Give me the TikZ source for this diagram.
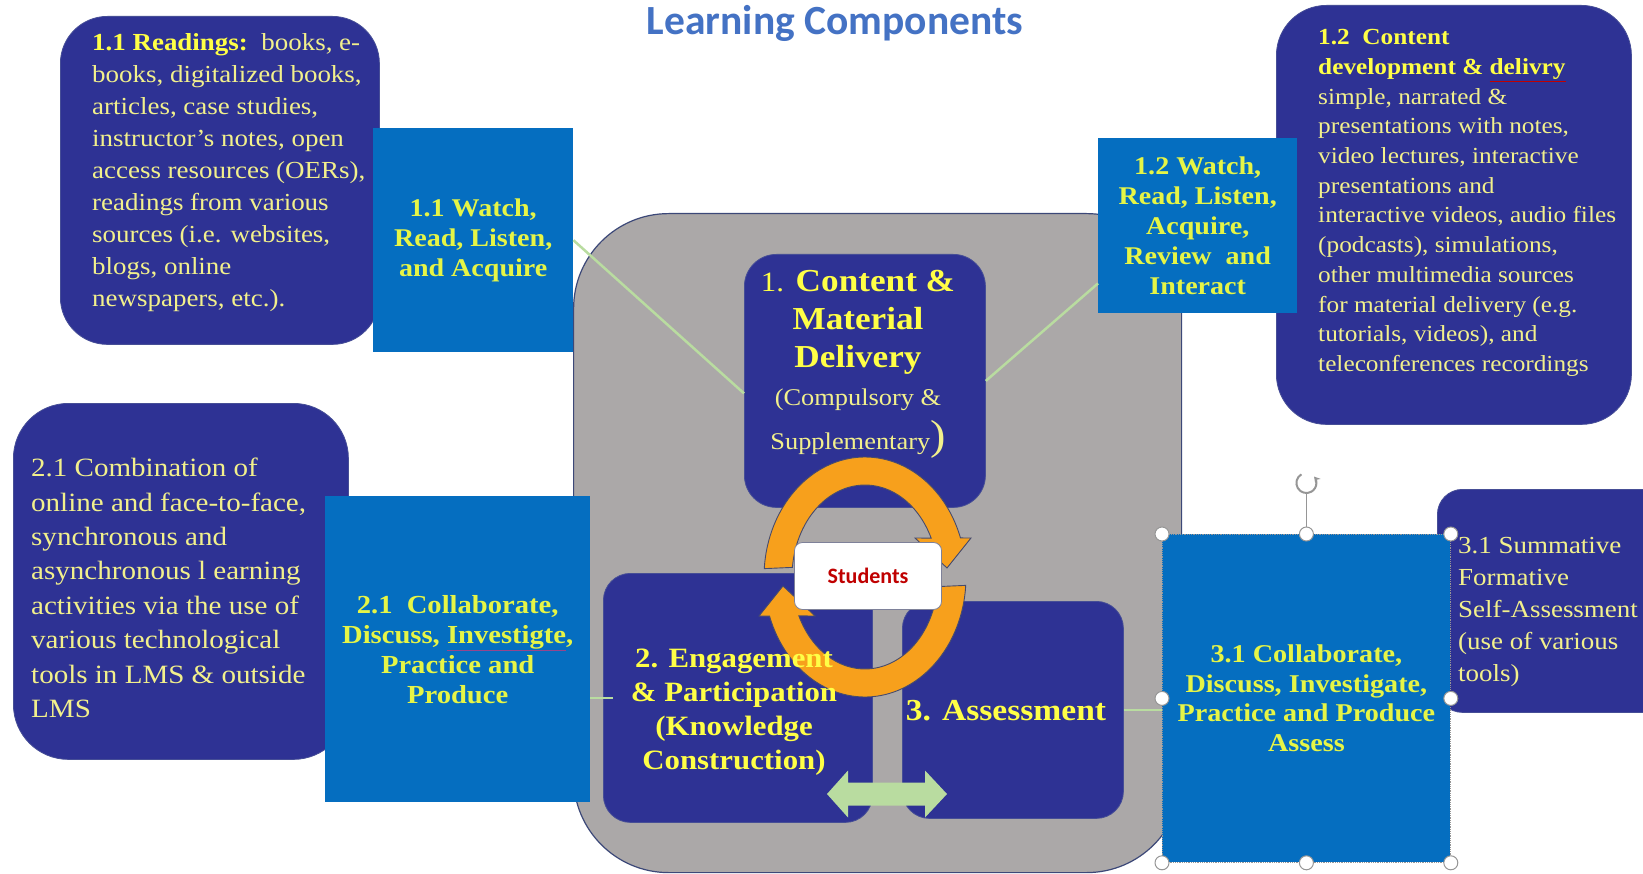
\documentclass[tikz,border=0pt]{standalone}
\usepackage{fontspec}
\setmainfont{Liberation Serif}[FakeStretch=1.1]
\newfontfamily\carlito{Carlito}
\usetikzlibrary{arrows.meta,calc}
\definecolor{dkblue}{RGB}{46,50,148}
\definecolor{dkborder}{RGB}{70,78,150}
\definecolor{mblue}{RGB}{5,110,192}
\definecolor{bggray}{RGB}{171,168,168}
\definecolor{bgedge}{RGB}{60,72,120}
\definecolor{ylight}{RGB}{242,240,140}
\definecolor{ybright}{RGB}{255,255,70}
\definecolor{ylime}{RGB}{230,245,70}
\definecolor{lgreen}{RGB}{185,220,160}
\definecolor{orng}{RGB}{247,160,28}
\definecolor{ringedge}{RGB}{70,75,110}
\definecolor{titleblue}{RGB}{68,114,196}
\definecolor{studred}{RGB}{192,0,0}
\definecolor{squig}{RGB}{150,70,140}
\definecolor{selgray}{RGB}{150,150,150}
\begin{document}
\begin{tikzpicture}[x=1pt,y=-1pt,
  graybg/.style={fill=bggray, draw=bgedge, line width=1.2pt, rounded corners=95pt, inner sep=0pt, anchor=north west},
  dbox/.style={fill=dkblue, draw=dkborder, line width=0.8pt, rounded corners=#1, inner sep=0pt, anchor=north west},
  dbox/.default=30pt,
  bbox/.style={fill=mblue, draw=none, inner sep=0pt, anchor=north west, align=center, text=ylime},
  txt/.style={inner sep=0pt, align=left, text=ylight},
  gline/.style={draw=lgreen, line width=2.5pt},
  ringfill/.style={fill=orng, draw=ringedge, line width=0.9pt},
  stud/.style={fill=white, draw=ringedge!70, line width=0.8pt, rounded corners=8pt, minimum width=147pt, minimum height=67pt, inner sep=0pt, text=studred, font=\carlito\bfseries\fontsize{22}{26}\selectfont},
  handle/.style={circle, fill=white, draw=selgray, line width=1pt, minimum size=14pt, inner sep=0pt},
  ringarrow/.pic={
    \filldraw[ringfill] plot[domain=184:341, samples=60] ({101*cos(\x)},{120*sin(\x)})
      -- (106,-39) -- (82,-9) -- (50,-39)
      -- plot[domain=335:186, samples=60] ({73*cos(\x)},{92*sin(\x)}) -- cycle;
  }
]
\useasboundingbox[fill=white] (0,0) rectangle (1643,874);

% title
\node[font=\carlito\bfseries\fontsize{41.5}{48}\selectfont, text=titleblue, inner sep=0pt] (title) at (835,23) {Learning Components};

% gray central panel
\node[graybg, minimum width=608pt, minimum height=659pt] (bg) at (573,213) {};

% left / right outer boxes
\node[dbox=47pt, minimum width=319pt, minimum height=328pt] (read) at (60,16) {};
\node[bbox, minimum width=200pt, minimum height=224pt, font=\bfseries\fontsize{25.5}{30}\selectfont] (w11) at (373,128) {1.1 Watch,\\Read, Listen,\\and Acquire};

\node[dbox=50pt, minimum width=355pt, minimum height=419pt] (cont12) at (1276,5) {};
\node[bbox, minimum width=199pt, minimum height=175pt, font=\bfseries\fontsize{25.5}{30}\selectfont] (w12) at (1098,138) {1.2 Watch,\\Read, Listen,\\Acquire,\\Review\ \ and\\Interact};

\node[dbox=55pt, minimum width=335pt, minimum height=356pt] (comb) at (13,403) {};
\node[bbox, minimum width=265pt, minimum height=306pt, font=\bfseries\fontsize{26}{30}\selectfont] (c21) at (325,496) {2.1\ \ Collaborate,\\Discuss, {\color{squig}\underline{\color{ylime}Investigte}},\\Practice and\\Produce};

\node[dbox=25pt, minimum width=230pt, minimum height=223pt] (sum) at (1437,489) {};
\node[bbox, draw=selgray, densely dotted, line width=0.8pt, minimum width=288pt, minimum height=328pt, font=\bfseries\fontsize{25.6}{29.5}\selectfont] (c31) at (1162,534) {3.1 Collaborate,\\Discuss, Investigate,\\Practice and Produce\\Assess};

% central boxes
\node[dbox=32pt, minimum width=241pt, minimum height=253pt] (c1) at (744,254) {};
\node[dbox=27pt, minimum width=269pt, minimum height=249pt] (e2) at (603,573) {};
\node[dbox=27pt, minimum width=221pt, minimum height=217pt] (a3) at (902,601) {};

% connectors
\draw[gline] (w11.east) -- ([yshift=-12.5pt]c1.west);
\draw[gline] ([yshift=30pt]w12.south west) -- (c1.east);
\draw[gline] (c21.east |- e2.west) -- ([xshift=10pt]e2.west);
\draw[gline] (a3.east) -- (a3.east -| c31.west);

% double arrow between 2 and 3
\coordinate (da) at (887,794);
\begin{scope}[shift={(da)}]
\fill[lgreen] (-60,0) -- (-39,-23.5) -- (-39,-11.5) -- (38,-11.5) -- (38,-23.5) -- (60,0)
  -- (38,23.5) -- (38,11.5) -- (-39,11.5) -- (-39,23.5) -- cycle;
\end{scope}

% cycle arrows
\coordinate (rc) at (865,577);
\pic at (rc) {ringarrow};
\pic[rotate=180] at (rc) {ringarrow};
\node[stud] (stu) at (868,576) {Students};

% texts
\node[txt, anchor=west, font=\fontsize{24.5}{32}\selectfont] (readtxt) at (92,173) {{\bfseries\color{ybright}1.1 Readings:}\ \ books, e-\\books, digitalized books,\\articles, case studies,\\instructor’s notes, open\\access resources (OERs),\\readings from various\\sources (i.e. websites,\\blogs, online\\newspapers, etc.).};

\node[txt, anchor=west, font=\fontsize{23}{29.7}\selectfont] (cont12txt) at (1318,203) {{\bfseries\color{ybright}1.2\ \ Content}\\{\bfseries\color{ybright}development \& {\color{studred}\underline{\color{ybright}delivry}}}\\simple, narrated \&\\presentations with notes,\\video lectures, interactive\\presentations and\\interactive videos, audio files\\(podcasts), simulations,\\other multimedia sources\\for material delivery (e.g.\\tutorials, videos), and\\teleconferences recordings};

\node[txt, anchor=west, font=\fontsize{26.4}{34.4}\selectfont] (combtxt) at (31,588) {2.1 Combination of\\online and face-to-face,\\synchronous and\\asynchronous l earning\\activities via the use of\\various technological\\tools in LMS \& outside\\LMS};

\node[txt, anchor=west, font=\fontsize{24.5}{32}\selectfont] (sumtxt) at (1458,612) {3.1 Summative\\Formative\\Self-Assessment\\(use of various\\tools)};

\node[txt, align=center, text=ybright, font=\bfseries\fontsize{32}{38}\selectfont] (c1txt) at (858,364) {{\mdseries\fontsize{28}{38}\selectfont 1.} Content \&\\Material\\Delivery\\{\mdseries\color{ylight}\fontsize{24}{30}\selectfont (Compulsory \&}\\[6pt]{\mdseries\color{ylight}\fontsize{24}{30}\selectfont Supplementary{\fontsize{42}{42}\selectfont)}}};

\node[txt, align=center, text=ybright, font=\bfseries\fontsize{28}{34}\selectfont] (e2txt) at (734,712) {2. Engagement\\\& Participation\\(Knowledge\\Construction)};

\node[txt, text=ybright, font=\bfseries\fontsize{30.5}{36}\selectfont] (a3txt) at (1006,711) {3. Assessment};

% selection handles on 3.1 box
\draw[selgray, line width=1.2pt] (c31.north) -- ([yshift=40pt]c31.north);
\coordinate (rot) at ([yshift=51pt]c31.north);
\draw[selgray, line width=2pt, -{Stealth[length=6pt,width=7pt]}] ([shift={(120:10pt)}]rot) arc[start angle=120, end angle=400, radius=10pt];
\foreach \p in {north west,north,north east,west,east,south west,south,south east}
  \node[handle] (h-\p) at (c31.\p) {};
\end{tikzpicture}
\end{document}
